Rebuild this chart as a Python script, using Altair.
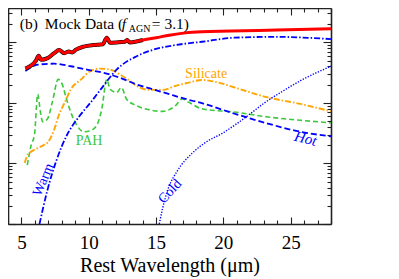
import altair as alt
import pandas as pd

W, H = 323, 216
XDOM = [4, 28]
YDOM = [0.01, 36.8]

# ---- data ----
total_x = [5.29, 6.09, 6.28, 6.46, 6.94, 7.43, 7.80, 8.17, 8.53, 8.77, 9.02, 9.63, 10.36, 11.04,
           11.34, 11.58, 12.07, 12.68, 12.85, 13.05, 14.02, 15.0, 15.98, 17.19, 18.41, 23.30, 28.0]
total_y = [3.68, 5.03, 5.97, 5.14, 5.48, 6.61, 7.48, 6.61, 7.04, 6.78, 7.48, 8.49, 9.01, 9.25,
           11.9, 9.86, 9.96, 10.2, 10.9, 9.96, 10.9, 11.9, 13.1, 14.3, 14.9, 15.8, 16.8]

data_x = total_x[:21]
data_y = total_y[:21]

hot_x = [5.29, 6.21, 7.43, 8.66, 9.87, 11.09, 12.32, 13.53, 14.75, 15.98, 17.19, 18.41, 20.85, 23.30, 25.73, 28.0]
hot_y = [3.34, 4.27, 4.43, 4.02, 3.54, 3.13, 2.60, 2.02, 1.68, 1.39, 1.16, 0.986, 0.661, 0.455, 0.333, 0.280]

warm_x = [6.34, 6.92, 7.58, 8.40, 9.30, 10.12, 11.09, 12.07, 13.53, 14.75, 16.46, 18.41, 20.83, 23.76, 28.0]
warm_y = [0.01, 0.0356, 0.109, 0.30, 0.60, 1.0, 1.91, 3.54, 5.84, 7.48, 9.01, 10.2, 11.9, 12.3, 11.3]

cold_x = [15.24, 15.49, 15.85, 16.58, 17.68, 18.78, 19.88, 20.98, 22.07, 23.02, 24.27, 25.73, 28.0]
cold_y = [0.01, 0.0182, 0.0356, 0.075, 0.147, 0.230, 0.310, 0.450, 0.678, 0.986, 1.49, 2.32, 4.02]

sil_x = [5.24, 5.48, 6.21, 6.70, 6.94, 7.43, 7.73, 8.29, 8.66, 9.39, 10.12, 10.85, 11.58, 12.32,
         13.05, 13.78, 14.51, 15.49, 16.46, 17.44, 18.41, 19.64, 20.85, 23.30, 25.73, 28.0]
sil_y = [0.102, 0.140, 0.179, 0.203, 0.221, 0.360, 0.585, 1.10, 1.66, 2.39, 3.34, 3.68, 3.54, 2.94,
         2.30, 1.79, 1.64, 1.64, 1.91, 2.16, 2.39, 2.16, 1.79, 1.23, 0.960, 0.723]

pah_x = [5.43, 5.73, 5.97, 6.21, 6.41, 6.58, 6.94, 7.29, 7.73, 8.04, 8.31, 8.66, 9.14, 9.63, 10.12,
         10.60, 10.97, 11.34, 11.58, 12.07, 12.43, 12.80, 13.53, 14.75, 15.49, 16.46, 16.95, 17.44,
         18.41, 20.83, 23.30, 25.73, 28.0]
pah_y = [0.0938, 0.203, 0.299, 1.39, 0.705, 0.486, 0.548, 1.02, 2.44, 2.00, 1.23, 0.705, 0.418, 0.333,
         0.347, 0.428, 0.797, 2.44, 1.68, 1.49, 1.79, 1.16, 0.904, 0.750, 0.723, 0.904, 1.16, 1.02,
         0.797, 0.705, 0.585, 0.516, 0.467]

x_major = [5, 10, 15, 20, 25]
x_minor = list(range(4, 29))
y_ticks = [m * 10.0 ** e for e in range(-2, 2) for m in range(1, 10) if m * 10.0 ** e <= 36.8]

BLUE = "#0000ff"
RED = "#ff0000"
ORANGE = "#ffa500"
GREEN = "#3cc83c"
FRAME = "#222222"
SERIF = "Liberation Serif"

xscale = alt.Scale(domain=XDOM, nice=False, zero=False)
yscale = alt.Scale(type="log", domain=YDOM, nice=False)

xtick_size = {"condition": {"test": "datum.value % 5 === 0", "value": 7}, "value": 4}
ytick_size = {"condition": {"test": "abs(log(datum.value)/LN10 - round(log(datum.value)/LN10)) < 0.001",
                            "value": 8}, "value": 4}

frame_common = dict(labels=False, title=None, grid=False, domain=True, domainColor=FRAME,
                    domainWidth=1.6, tickColor=FRAME, tickWidth=1.1)

ax_label = alt.Axis(orient="bottom", values=x_major, ticks=False, domain=False, grid=False,
                    labelFont=SERIF, labelFontSize=19, labelColor="black", labelPadding=9,
                    title="Rest Wavelength (μm)", titleFont=SERIF, titleFontSize=20,
                    titleFontWeight="normal", titleColor="black", titlePadding=3, format="d")
ax_bottom_in = alt.Axis(orient="top", offset=-H, values=x_minor, tickSize=xtick_size, **frame_common)
ax_top_in = alt.Axis(orient="bottom", offset=-H, values=x_minor, tickSize=xtick_size, **frame_common)
ay_left_in = alt.Axis(orient="right", offset=-W, values=y_ticks, tickSize=ytick_size, **frame_common)
ay_right_in = alt.Axis(orient="left", offset=-W, values=y_ticks, tickSize=ytick_size, **frame_common)


def line(xs, ys, color, width, dash=None, xaxis=None, yaxis=None):
    kw = dict(color=color, strokeWidth=width, interpolate="monotone", clip=True)
    if dash:
        kw["strokeDash"] = dash
    return alt.Chart(pd.DataFrame({"x": xs, "y": ys})).mark_line(**kw).encode(
        x=alt.X("x:Q", scale=xscale, axis=xaxis),
        y=alt.Y("y:Q", scale=yscale, axis=yaxis),
    )


def label(x, y, text, color, size, angle=0, style="normal", align="center", baseline="alphabetic",
          dx=0, dy=0):
    kw = dict(color=color, fontSize=size, font=SERIF, fontStyle=style, align=align,
              baseline=baseline, dx=dx, dy=dy)
    if angle:
        kw["angle"] = angle
    return alt.Chart(pd.DataFrame({"x": [x], "y": [y], "t": [text]})).mark_text(**kw).encode(
        x=alt.X("x:Q", scale=xscale, axis=None),
        y=alt.Y("y:Q", scale=yscale, axis=None),
        text="t:N",
    )


layers = [
    line(pah_x, pah_y, GREEN, 1.6, [5, 3], xaxis=ax_label, yaxis=ay_left_in),
    line(sil_x, sil_y, ORANGE, 1.9, [6, 2, 1.5, 2], xaxis=ax_bottom_in, yaxis=ay_right_in),
    line(hot_x, hot_y, BLUE, 1.8, [6, 3], xaxis=ax_top_in),
    line(warm_x, warm_y, BLUE, 1.8, [6, 2, 1.5, 2]),
    line(cold_x, cold_y, BLUE, 1.4, [1.3, 1.5]),
    line(data_x, data_y, "black", 4.0),
    line(total_x, total_y, RED, 3.0),
    label(18.72, 2.60, "Silicate", ORANGE, 14),
    label(10.02, 0.203, "PAH", GREEN, 14),
    label(26.02, 0.216, "Hot", BLUE, 15, angle=14, style="italic"),
    label(6.64, 0.0536, "Warm", BLUE, 14, angle=293, baseline="middle"),
    label(16.04, 0.0343, "Cold", BLUE, 14, angle=313, baseline="middle"),
    label(4.88, 16.8, "(b)", "black", 15.5, align="left"),
    label(4.88, 16.8, "Mock Data (", "black", 15.5, align="left", dx=25),
    label(4.88, 16.8, "f", "black", 15.5, align="left", dx=102, style="italic"),
    label(4.88, 16.8, "AGN", "black", 10, align="left", dx=109, dy=3),
    label(4.88, 16.8, "= 3.1)", "black", 15.5, align="left", dx=132),
]

chart = alt.layer(*layers).resolve_axis(x="independent", y="independent").properties(
    width=W, height=H,
    autosize=alt.AutoSizeParams(type="none"),
    padding={"left": 0, "top": 0, "right": 10, "bottom": 55},
).configure_view(stroke=None)

chart.save("out.html", embed_options={"renderer": "svg", "actions": False})
